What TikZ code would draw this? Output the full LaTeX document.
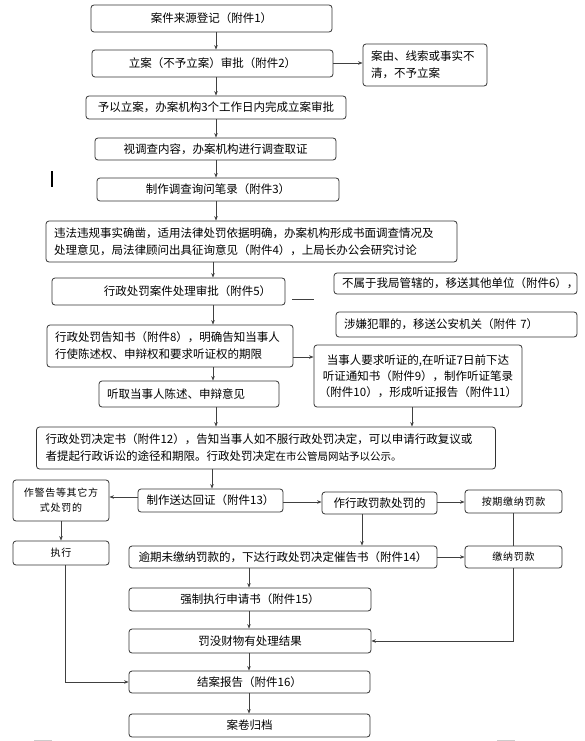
\documentclass[tikz,border=0pt]{standalone}
\usepackage{fontspec}
\setmainfont{Noto Sans CJK SC}
\newfontfamily\spacedfont[LetterSpace=7]{Noto Sans CJK SC}
\usetikzlibrary{arrows.meta}
\begin{document}
\begin{tikzpicture}[x=1pt,y=-1pt,
  box/.style={draw=black!80, line width=0.8pt, rounded corners=3pt, inner sep=0pt, align=center,
              font=\fontsize{11.5}{17}\selectfont},
  lbox/.style={box, align=left, inner xsep=8pt},
  sbox/.style={box, font=\spacedfont\fontsize{10}{15}\selectfont},
  arr/.style={draw=black!75, line width=0.8pt, -{Stealth[length=4.5pt,width=3.5pt]}},
  ln/.style={draw=black!75, line width=0.8pt}]
\useasboundingbox (0,0) rectangle (585,741);
\fill[white] (0,0) rectangle (585,741);

% main column
\node[box, minimum width=241pt, minimum height=27pt] (b1) at (211.5,18.5) {案件来源登记（附件1）};
\node[box, minimum width=241pt, minimum height=27pt] (b2) at (212.5,63.5) {立案（不予立案）审批（附件2）};
\node[lbox, text width=108pt, minimum height=42pt] (s1) at (425,65) {案由、线索或事实不\\清，不予立案};
\node[box, minimum width=260pt, minimum height=23pt] (b3) at (216,107.5) {予以立案，办案机构3个工作日内完成立案审批};
\node[box, minimum width=241pt, minimum height=22pt] (b4) at (215.5,149) {视调查内容，办案机构进行调查取证};
\node[box, minimum width=242pt, minimum height=23pt] (b5) at (218,189.5) {制作调查询问笔录（附件3）};
\node[lbox, text width=395pt, minimum height=41pt] (b6) at (251.5,241.5) {违法违规事实确凿，适用法律处罚依据明确，办案机构形成书面调查情况及\\处理意见，局法律顾问出具征询意见（附件4），上局长办公会研究讨论};
\node[box, minimum width=233pt, minimum height=27pt] (b7) at (168.5,291.5) {\hspace*{38pt}行政处罚案件处理审批（附件5）};
\node[lbox, text width=227pt, inner xsep=8pt, minimum height=21pt] (s6) at (455.5,283.5) {不属于我局管辖的，移送其他单位（附件6），};
\node[lbox, text width=225pt, inner xsep=8pt, minimum height=25pt] (s7) at (456.5,324.5) {涉嫌犯罪的，移送公安机关（附件 7）};
\node[lbox, text width=230pt, minimum height=42pt] (b8) at (170,346) {行政处罚告知书（附件8），明确告知当事人\\行使陈述权、申辩权和要求听证权的期限};
\node[box, minimum width=208pt, minimum height=62pt, font=\fontsize{11.5}{16}\selectfont] (hr) at (418,376) {当事人要求听证的,在听证7日前下达\\听证通知书（附件9），制作听证笔录\\（附件10），形成听证报告（附件11）};
\node[lbox, text width=164pt, minimum height=26pt] (b9) at (189,394) {听取当事人陈述、申辩意见};
\node[lbox, text width=441pt, inner xsep=9pt, minimum height=42pt] (b10) at (266,448) {行政处罚决定书（附件12），告知当事人如不服行政处罚决定，可以申请行政复议或\\者提起行政诉讼的途径和期限。行政处罚决定{\fontsize{10.5}{17}\selectfont 在市公管局网站予以公示。}};

% lower part
\node[sbox, minimum width=96pt, minimum height=41pt] (jg) at (61,500.5) {作警告等其它方\\式处罚的};
\node[box, minimum width=145pt, minimum height=23pt] (sd) at (210.5,500.5) {制作送达回证（附件13）};
\node[box, minimum width=115pt, minimum height=22pt] (fk) at (379.5,503) {作行政罚款处罚的};
\node[sbox, minimum width=97pt, minimum height=23pt] (aq) at (513.5,501.5) {按期缴纳罚款};
\node[sbox, minimum width=96pt, minimum height=24pt] (zx) at (61,553) {执行};
\node[box, minimum width=308pt, minimum height=22pt] (yq) at (283,557) {逾期未缴纳罚款的，下达行政处罚决定催告书（附件14）};
\node[sbox, minimum width=97pt, minimum height=22pt] (jn) at (513.5,557) {缴纳罚款};
\node[box, minimum width=242pt, minimum height=23pt] (qz) at (250,599.5) {强制执行申请书（附件15）};
\node[box, minimum width=242pt, minimum height=24pt] (fm) at (250,641) {罚没财物有处理结果};
\node[box, minimum width=241pt, minimum height=22pt] (ja) at (249.5,682) {结案报告（附件16）};
\node[box, minimum width=241pt, minimum height=23pt] (aj) at (249.5,725.5) {案卷归档};

% column / row references
\coordinate (cA) at (216,0);
\coordinate (cB) at (213,0);
\coordinate (cD) at (412,0);
\coordinate (cE) at (212,0);
\coordinate (cF) at (61,0);
\coordinate (cG) at (362,0);
\coordinate (cH) at (249,0);
\coordinate (cI) at (65,0);
\coordinate (r1) at (0,63);
\coordinate (r2) at (0,357);
\coordinate (r3) at (0,497);
\coordinate (r4) at (0,502);
\coordinate (r5) at (0,557);

% connectors
\draw[arr] (b1.south -| cA) -- (b2.north -| cA);
\draw[arr] (b2.east |- r1) -- (s1.west |- r1);
\draw[arr] (b2.south -| cA) -- (b3.north -| cA);
\draw[arr] (b3.south -| cA) -- (b4.north -| cA);
\draw[arr] (b4.south -| cA) -- (b5.north -| cA);
\draw[arr] (b5.south -| cA) -- (b6.north -| cA);
\draw[arr] (b6.south -| cB) -- (b7.north -| cB);
\draw[arr] (b7.south -| cB) -- (b8.north -| cB);
\draw[arr] (b8.south -| cB) -- (b9.north -| cB);
\draw[arr] (b8.east |- r2) -- (hr.west |- r2);
\draw[arr] (b9.south -| cA) -- (b10.north -| cA);
\draw[arr] (hr.south -| cD) -- (b10.north -| cD);
\draw[arr] (b10.south -| cE) -- (sd.north -| cE);
\draw[arr] (sd.west |- r3) -- (jg.east |- r3);
\draw[arr] (sd.east |- r4) -- (fk.west |- r4);
\draw[arr] (fk.east |- r4) -- (aq.west |- r4);
\draw[arr] (jg.south -| cF) -- (zx.north -| cF);
\draw[arr] (fk.south -| cG) -- (yq.north -| cG);
\draw[arr] (yq.east |- r5) -- (jn.west |- r5);
\draw[ln] (aq.south) -- (jn.north);
\draw[arr] (yq.south -| cH) -- (qz.north -| cH);
\draw[arr] (qz.south -| cH) -- (fm.north -| cH);
\draw[arr] (jn.south) |- (fm.east);
\draw[arr] (fm.south -| cH) -- (ja.north -| cH);
\draw[arr] (zx.south -| cI) |- (ja.west);
\draw[arr] (ja.south -| cH) -- (aj.north -| cH);

% stray marks in the picture
\coordinate (d1) at (292,299);
\coordinate (d2) at (314,299);
\draw[ln] (d1) -- (d2);
\coordinate (v1) at (52,171);
\coordinate (v2) at (52,187);
\draw[line width=1.6pt] (v1) -- (v2);
\coordinate (m1) at (34,740);
\coordinate (m2) at (52,740);
\coordinate (m3) at (497,740);
\coordinate (m4) at (515,740);
\draw[gray!40, line width=1pt] (m1) -- (m2);
\draw[gray!40, line width=1pt] (m3) -- (m4);
\end{tikzpicture}
\end{document}
